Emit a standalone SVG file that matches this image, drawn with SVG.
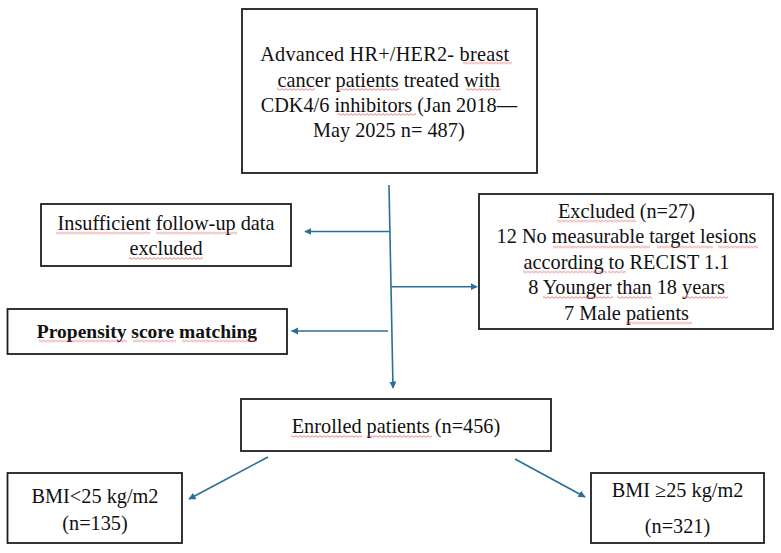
<svg xmlns="http://www.w3.org/2000/svg" width="781" height="553" viewBox="0 0 781 553">
<defs>
<style>
.box{fill:#fff;stroke:#1e1e1e;stroke-width:1.8}
.t{font-family:"Liberation Serif","Times New Roman",serif;font-size:20.3px;fill:#111;text-anchor:middle}
.b{font-weight:bold;font-size:19.5px}
.c{stroke:#2a6f97;stroke-width:1.6;fill:none}
.u{fill:url(#wv)}
</style>
<pattern id="wv" width="4" height="3" patternUnits="userSpaceOnUse">
<path d="M-1,2.3 L1,0.7 L3,2.3 L5,0.7" fill="none" stroke="#e04848" stroke-width="0.7"/>
</pattern>
<marker id="ah" viewBox="0 0 10 10" refX="9" refY="5" markerWidth="4.5" markerHeight="4.5" orient="auto" markerUnits="strokeWidth">
<path d="M0,0 L10,5 L0,10 z" fill="#2a6f97"/>
</marker>
</defs>
<rect width="781" height="553" fill="#fff"/>
<g id="connectors">
<path class="c" d="M389,185 L393,388" marker-end="url(#ah)"/>
<path class="c" d="M389.9,231.5 L305,231.5" marker-end="url(#ah)"/>
<path class="c" d="M391.2,286.7 L477,286.7" marker-end="url(#ah)"/>
<path class="c" d="M388,331 L291.5,331" marker-end="url(#ah)"/>
<path class="c" d="M268,457 L189,499" marker-end="url(#ah)"/>
<path class="c" d="M515,459 L585,497" marker-end="url(#ah)"/>
</g>
<g id="node-start">
<rect class="box" x="242" y="9" width="295" height="164"/>
<text class="t" x="384.7" y="61" textLength="249" lengthAdjust="spacing">Advanced HR+/HER2- breast</text>
<text class="t" x="388.8" y="87">cancer patients treated with</text>
<text class="t" x="388.8" y="112">CDK4/6 inhibitors (Jan 2018—</text>
<text class="t" x="388.8" y="137">May 2025 n= 487)</text>
</g>
<g id="node-insufficient">
<rect class="box" x="41" y="204" width="250" height="62"/>
<text class="t" x="166" y="230">Insufficient follow-up data</text>
<text class="t" x="166" y="255">excluded</text>
</g>
<g id="node-psm">
<rect class="box" x="7.5" y="309" width="279.5" height="45"/>
<text class="t b" x="147" y="338">Propensity score matching</text>
</g>
<g id="node-excluded">
<rect class="box" x="479" y="194" width="294" height="135"/>
<text class="t" x="626.5" y="218">Excluded (n=27)</text>
<text class="t" x="626.5" y="243">12 No measurable target lesions</text>
<text class="t" x="626.5" y="269">according to RECIST 1.1</text>
<text class="t" x="626.5" y="294">8 Younger than 18 years</text>
<text class="t" x="626.5" y="320">7 Male patients</text>
</g>
<g id="node-enrolled">
<rect class="box" x="241" y="399" width="310" height="52"/>
<text class="t" x="396" y="433">Enrolled patients (n=456)</text>
</g>
<g id="node-bmi-low">
<rect class="box" x="7.5" y="473" width="174.5" height="70"/>
<text class="t" x="95" y="503">BMI&lt;25 kg/m2</text>
<text class="t" x="95" y="530">(n=135)</text>
</g>
<g id="node-bmi-high">
<rect class="box" x="591" y="473" width="173" height="70"/>
<text class="t" x="677.5" y="497">BMI ≥25 kg/m2</text>
<text class="t" x="677.5" y="533">(n=321)</text>
</g>
<g id="spellcheck-underlines">
<rect class="u" transform="translate(463,61.5)" width="49" height="3"/>
<rect class="u" transform="translate(277,88)" width="38" height="3"/>
<rect class="u" transform="translate(337,88)" width="62" height="3"/>
<rect class="u" transform="translate(466,88)" width="35" height="3"/>
<rect class="u" transform="translate(338,113)" width="78" height="3"/>
<rect class="u" transform="translate(56,231.5)" width="94" height="3"/>
<rect class="u" transform="translate(156,231.5)" width="81" height="3"/>
<rect class="u" transform="translate(129,257)" width="74" height="3"/>
<rect class="u" transform="translate(39,339.5)" width="88" height="3"/>
<rect class="u" transform="translate(133,339.5)" width="43" height="3"/>
<rect class="u" transform="translate(182,339.5)" width="75" height="3"/>
<rect class="u" transform="translate(557,219.5)" width="79" height="3"/>
<rect class="u" transform="translate(553,245.5)" width="97" height="3"/>
<rect class="u" transform="translate(657,245.5)" width="56" height="3"/>
<rect class="u" transform="translate(718,245.5)" width="40" height="3"/>
<rect class="u" transform="translate(523,270.5)" width="84" height="3"/>
<rect class="u" transform="translate(608,270.5)" width="18" height="3"/>
<rect class="u" transform="translate(543,296)" width="70" height="3"/>
<rect class="u" transform="translate(617,296)" width="35" height="3"/>
<rect class="u" transform="translate(683,296)" width="45" height="3"/>
<rect class="u" transform="translate(626,321.5)" width="66" height="3"/>
<rect class="u" transform="translate(291,435)" width="71" height="3"/>
<rect class="u" transform="translate(367,435)" width="65" height="3"/>
</g>
</svg>
